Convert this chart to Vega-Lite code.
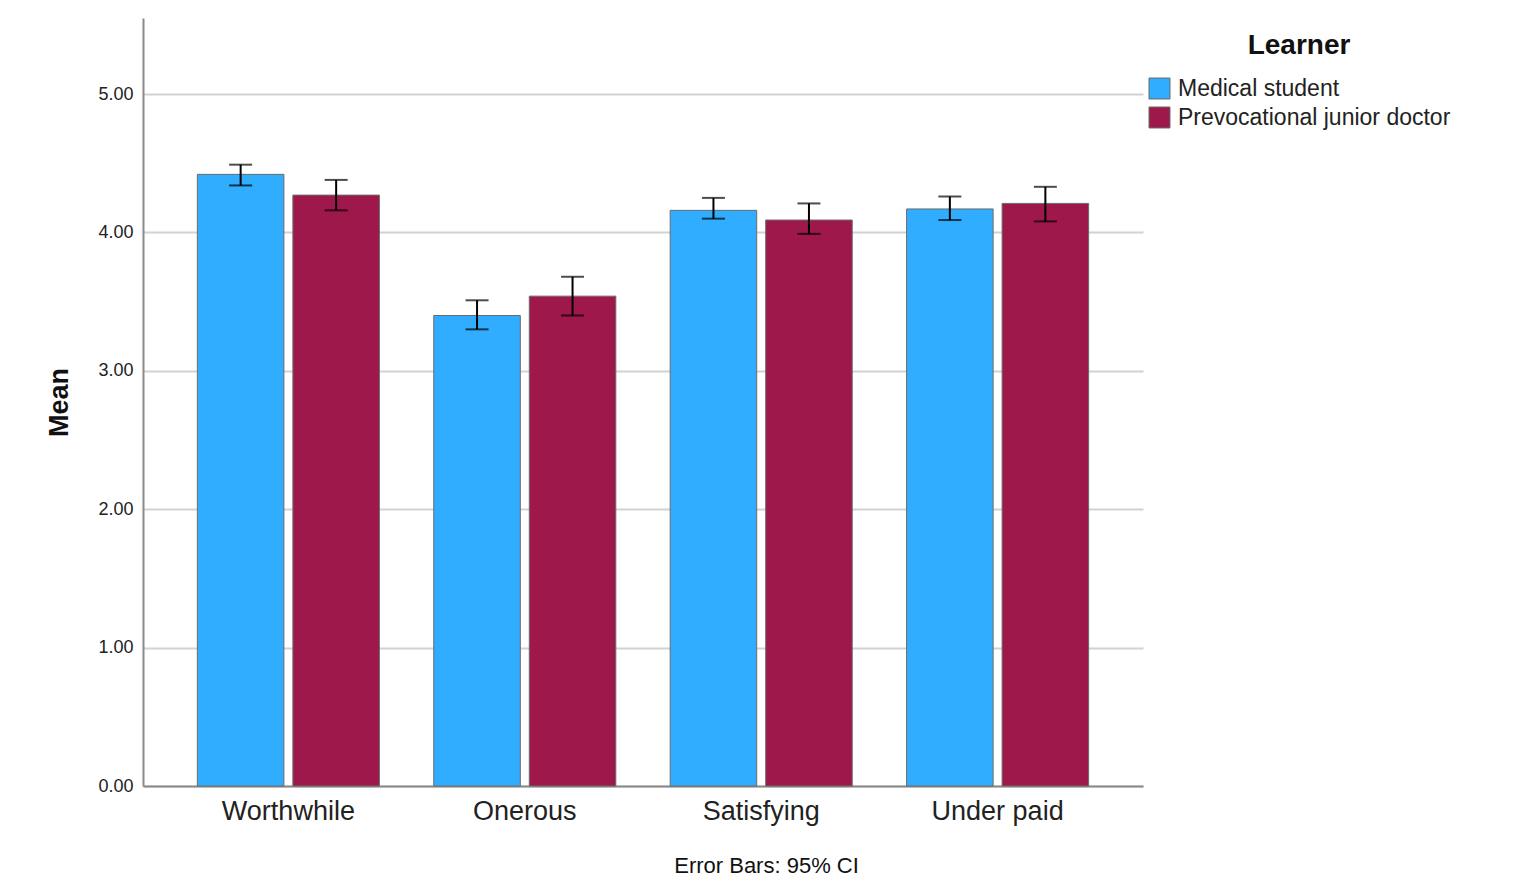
{
  "$schema": "https://vega.github.io/schema/vega-lite/v6.json",
  "autosize": {"type": "none"},
  "width": 1000,
  "height": 768,
  "padding": {"left": 143, "top": 18, "right": 371, "bottom": 108},
  "background": "white",
  "config": {
    "font": "Liberation Sans",
    "view": {"stroke": null},
    "axis": {
      "labelFont": "Liberation Sans",
      "titleFont": "Liberation Sans",
      "labelColor": "#222222",
      "titleColor": "#111111",
      "domainColor": "#8a8a8a",
      "domainWidth": 2,
      "gridColor": "#d2d2d2",
      "gridWidth": 2,
      "ticks": false
    }
  },
  "data": {
    "values": [
      {"item": "Worthwhile", "learner": "Medical student", "mean": 4.42, "lo": 4.34, "hi": 4.49},
      {"item": "Worthwhile", "learner": "Prevocational junior doctor", "mean": 4.27, "lo": 4.16, "hi": 4.38},
      {"item": "Onerous", "learner": "Medical student", "mean": 3.40, "lo": 3.30, "hi": 3.51},
      {"item": "Onerous", "learner": "Prevocational junior doctor", "mean": 3.54, "lo": 3.40, "hi": 3.68},
      {"item": "Satisfying", "learner": "Medical student", "mean": 4.16, "lo": 4.10, "hi": 4.25},
      {"item": "Satisfying", "learner": "Prevocational junior doctor", "mean": 4.09, "lo": 3.99, "hi": 4.21},
      {"item": "Under paid", "learner": "Medical student", "mean": 4.17, "lo": 4.09, "hi": 4.26},
      {"item": "Under paid", "learner": "Prevocational junior doctor", "mean": 4.21, "lo": 4.08, "hi": 4.33}
    ]
  },
  "encoding": {
    "x": {
      "field": "item",
      "type": "nominal",
      "sort": ["Worthwhile", "Onerous", "Satisfying", "Under paid"],
      "scale": {"paddingInner": 0.23, "paddingOuter": 0.23},
      "axis": {
        "title": "Error Bars: 95% CI",
        "titleFontSize": 22,
        "titleFontWeight": "normal",
        "titleX": 623,
        "titleY": 69,
        "labelFontSize": 27,
        "labelPadding": 12,
        "labelAngle": 0,
        "grid": false
      }
    },
    "xOffset": {
      "field": "learner",
      "type": "nominal",
      "scale": {"paddingInner": 0.094, "paddingOuter": 0}
    }
  },
  "layer": [
    {
      "mark": {"type": "bar", "stroke": "#6a6a6a", "strokeWidth": 1},
      "encoding": {
        "y": {
          "field": "mean",
          "type": "quantitative",
          "scale": {"domain": [0, 5.55], "nice": false},
          "axis": {
            "title": "Mean",
            "titleFontSize": 27,
            "titleFontWeight": "bold",
            "titlePadding": 24,
            "labelFontSize": 18,
            "labelPadding": 10,
            "values": [0, 1, 2, 3, 4, 5],
            "format": ".2f",
            "grid": true
          }
        },
        "color": {
          "field": "learner",
          "type": "nominal",
          "scale": {
            "domain": ["Medical student", "Prevocational junior doctor"],
            "range": ["#30adfe", "#9f184b"]
          },
          "legend": {
            "title": "Learner",
            "orient": "none",
            "legendX": 1005,
            "legendY": 14,
            "titleFontSize": 28,
            "titleFontWeight": "bold",
            "titleAnchor": "middle",
            "titleColor": "#111111",
            "titlePadding": 17,
            "labelFontSize": 23,
            "labelColor": "#222222",
            "labelOffset": 7,
            "labelLimit": 400,
            "symbolType": "square",
            "symbolSize": 440,
            "symbolStrokeColor": "#6a6a6a",
            "symbolStrokeWidth": 1,
            "rowPadding": 4
          }
        }
      }
    },
    {
      "mark": {"type": "rule", "color": "black", "strokeWidth": 2},
      "encoding": {
        "y": {"field": "lo", "type": "quantitative"},
        "y2": {"field": "hi"}
      }
    },
    {
      "mark": {"type": "tick", "color": "black", "size": 23, "thickness": 2},
      "encoding": {
        "y": {"field": "lo", "type": "quantitative"}
      }
    },
    {
      "mark": {"type": "tick", "color": "black", "size": 23, "thickness": 2},
      "encoding": {
        "y": {"field": "hi", "type": "quantitative"}
      }
    }
  ]
}
